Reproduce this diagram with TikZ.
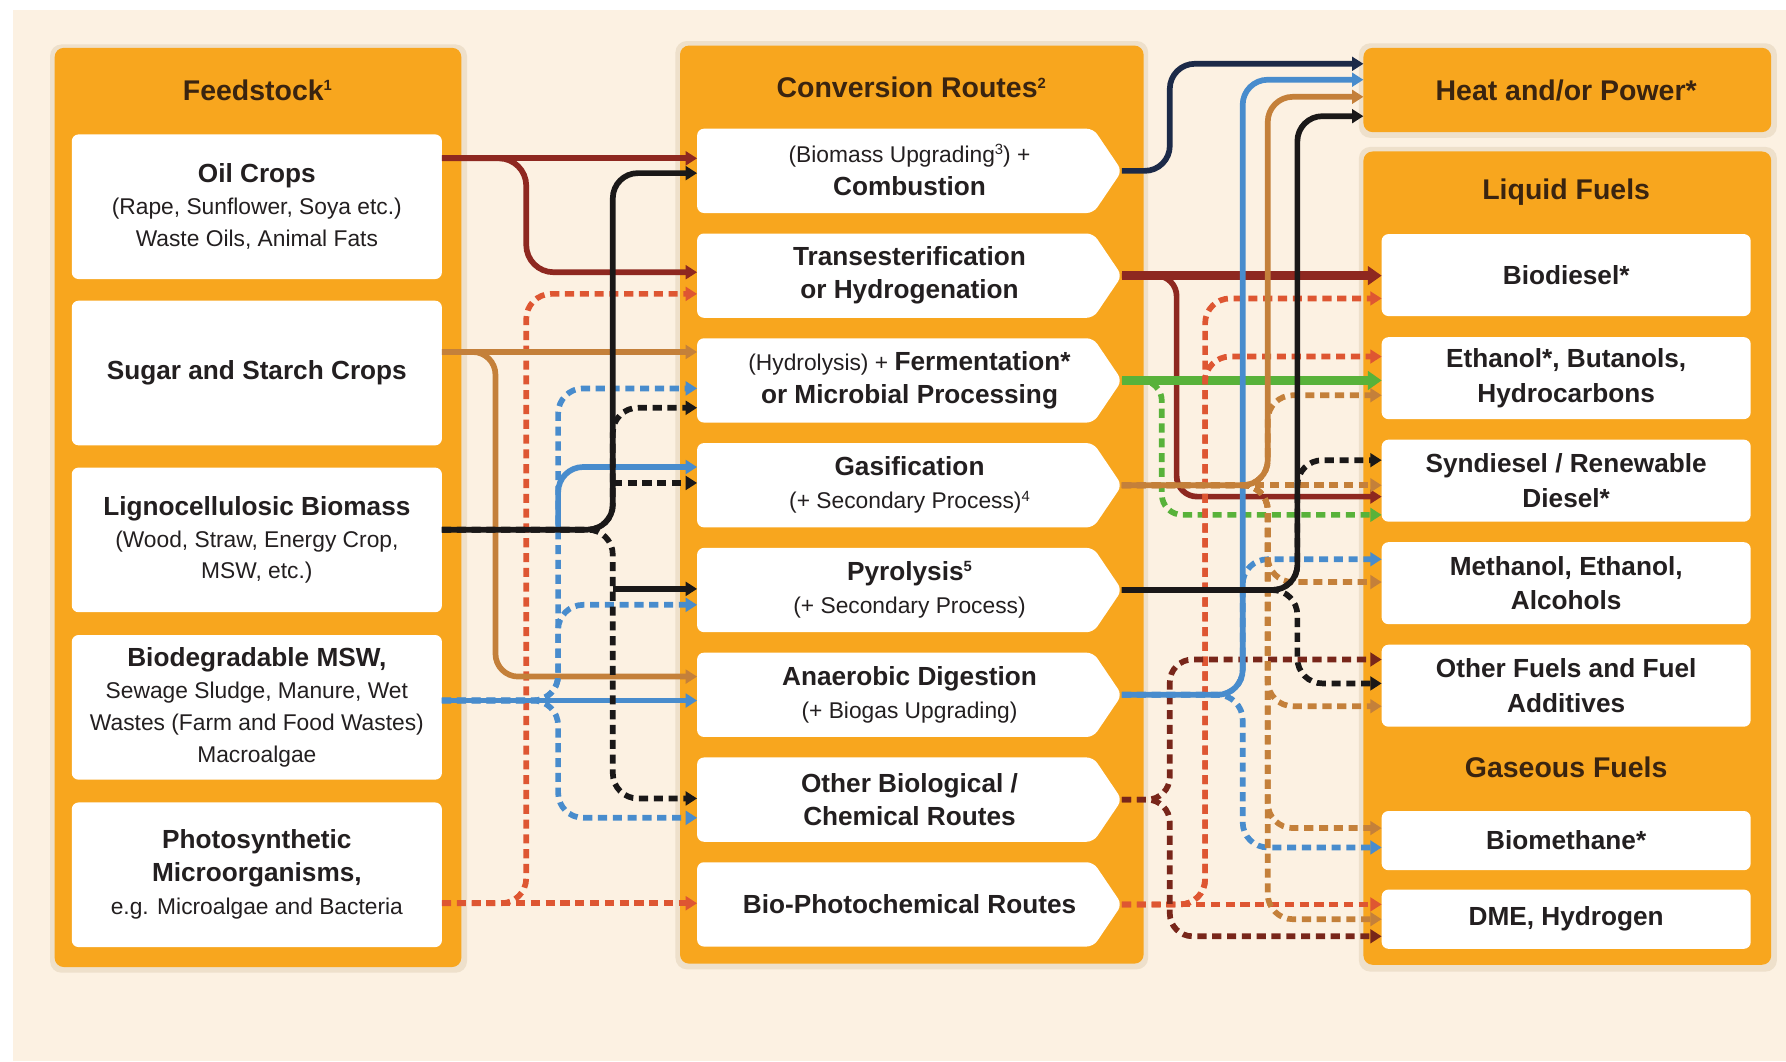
\documentclass[tikz,border=0pt]{standalone}
\usepackage{fontspec}
\setmainfont{Liberation Sans}
\usetikzlibrary{arrows.meta,calc}

\definecolor{bgcream}{RGB}{252,241,226}
\definecolor{panelor}{RGB}{248,166,30}
\definecolor{txt}{RGB}{35,31,32}
\definecolor{head}{RGB}{58,36,16}
\definecolor{cdred}{RGB}{142,40,32}
\definecolor{cred}{RGB}{222,86,50}
\definecolor{ctan}{RGB}{196,128,58}
\definecolor{cblack}{RGB}{26,24,24}
\definecolor{cnavy}{RGB}{28,42,72}
\definecolor{cblue}{RGB}{72,140,205}
\definecolor{cgreen}{RGB}{88,178,58}
\definecolor{cmaroon}{RGB}{120,38,26}
\definecolor{shadowc}{RGB}{238,224,203}

\newcommand{\bfx}[1]{{\fontsize{23}{29}\selectfont\bfseries #1}}
\newcommand{\sups}[1]{\smash{\raisebox{0.34em}{\fontsize{13}{13}\selectfont #1}}}
\newcommand{\convbox}[3]{%
  \fill[white,rounded corners=6pt] (612,#2-37) -- (960,#2-37) -- (985,#2) -- (960,#2+37) -- (612,#2+37) -- cycle;
  \node[ctext] (#1) at (798.5,#2) {#3};
}

\tikzset{
  panel/.style={fill=panelor, rounded corners=8pt, inner sep=0pt, outer sep=0pt},
  shade/.style={fill=shadowc, rounded corners=10pt},
  heading/.style={text=head, font=\fontsize{25}{30}\selectfont\bfseries, inner sep=0pt},
  fbox/.style={fill=white, rounded corners=6pt, inner sep=0pt, outer sep=0pt,
    minimum width=325pt, minimum height=127pt, align=center, text=txt,
    font=\fontsize{20}{28}\selectfont},
  obox/.style={fill=white, rounded corners=6pt, inner sep=0pt, outer sep=0pt,
    minimum width=324pt, minimum height=72pt, align=center, text=txt,
    font=\fontsize{23}{30}\selectfont\bfseries},
  ctext/.style={inner sep=0pt, outer sep=0pt, minimum width=373pt, minimum height=74pt,
    align=center, text=txt, font=\fontsize{20}{29}\selectfont},
  ln/.style={line width=5pt, rounded corners=22pt, -{Triangle[length=10pt,width=12pt]}},
  thk/.style={line width=7.5pt, -{Triangle[length=12pt,width=16pt]}},
  dsh/.style={dash pattern=on 8pt off 5pt},
}

\begin{document}
\begin{tikzpicture}[x=1pt,y=-1pt]
\useasboundingbox (0,0) rectangle (1568,931.5);
\fill[white] (0,0) rectangle (1568,931.5);
\fill[bgcream] (11,9) rectangle (1568,931.5);

% soft halos behind panels
\fill[shade] (44,39) rectangle (410,854);
\fill[shade] (593,36) rectangle (1008,851);
\fill[shade] (1193,38) rectangle (1560,121);
\fill[shade] (1193,129) rectangle (1560,853);

% panels
\node[panel, minimum width=357pt, minimum height=807pt] (fpanel) at (226.5,445.5) {};
\node[panel, minimum width=407pt, minimum height=806pt] (cpanel) at (800.5,443) {};
\node[panel, minimum width=358pt, minimum height=74pt] (heat) at (1376,79) {};
\node[panel, minimum width=358pt, minimum height=714pt] (opanel) at (1376,490) {};

% headings
\node[heading] (hfeed) at (226,79) {Feedstock\sups{1}};
\node[heading] (hconv) at (800,77) {Conversion Routes\sups{2}};
\node[heading] (hheat) at (1375,79) {Heat and/or Power*};
\node[heading] (hliq) at (1375,169) {Liquid Fuels};
\node[heading] (hgas) at (1375,674) {Gaseous Fuels};

% feedstock boxes
\node[fbox] (oil) at (225.5,181.5) {\bfx{Oil Crops}\\(Rape, Sunflower, Soya etc.)\\Waste Oils, Animal Fats};
\node[fbox] (sugar) at (225.5,327.5) {\bfx{Sugar and Starch Crops}};
\node[fbox] (ligno) at (225.5,474) {\bfx{Lignocellulosic Biomass}\\(Wood, Straw, Energy Crop,\\MSW, etc.)};
\node[fbox] (msw) at (225.5,621) {\bfx{Biodegradable MSW,}\\Sewage Sludge, Manure, Wet\\Wastes (Farm and Food Wastes)\\Macroalgae};
\node[fbox] (photo) at (225.5,768) {\bfx{Photosynthetic}\\[1pt]\bfx{Microorganisms,}\\[1pt]e.g. Microalgae and Bacteria};

% output boxes
\node[obox] (bio) at (1375,241.5) {Biodiesel*};
\node[obox] (eth) at (1375,332) {Ethanol*, Butanols,\\Hydrocarbons};
\node[obox] (syn) at (1375,422) {Syndiesel / Renewable\\Diesel*};
\node[obox] (meth) at (1375,512) {Methanol, Ethanol,\\Alcohols};
\node[obox] (addit) at (1375,602) {Other Fuels and Fuel\\Additives};
\node[obox, minimum height=52pt] (biom) at (1375,738) {Biomethane*};
\node[obox, minimum height=52pt] (dme) at (1375,807) {DME, Hydrogen};

% conversion boxes
\convbox{comb}{150}{(Biomass Upgrading\sups{3}) +\\\bfx{Combustion}}
\convbox{trans}{242}{\bfx{Transesterification}\\\bfx{or Hydrogenation}}
\convbox{ferm}{334}{(Hydrolysis) + \bfx{Fermentation*}\\\bfx{or Microbial Processing}}
\convbox{gas}{426}{\bfx{Gasification}\\(+ Secondary Process)\sups{4}}
\convbox{pyro}{518}{\bfx{Pyrolysis\sups{5}}\\(+ Secondary Process)}
\convbox{anaer}{610}{\bfx{Anaerobic Digestion}\\(+ Biogas Upgrading)}
\convbox{obio}{702}{\bfx{Other Biological /}\\\bfx{Chemical Routes}}
\convbox{bioph}{794}{\bfx{Bio-Photochemical Routes}}

% ---------- left connectors ----------
\draw[ln,cdred] (oil.east|-0,139) -- (comb.west|-0,139);
\draw[ln,cdred,rounded corners=24pt] (oil.east|-0,139) -- (462,139) -- (462,239) -- (trans.west|-0,239);

\draw[ln,cred,dsh] (photo.east|-0,793) -- (bioph.west|-0,793);
\draw[ln,cred,dsh] (photo.east|-0,793) -- (462,793) -- (462,258) -- (trans.west|-0,258);

\draw[ln,ctan] (sugar.east|-0,309) -- (ferm.west|-0,309);
\draw[ln,ctan,rounded corners=20pt] (sugar.east|-0,309) -- (435,309) -- (435,594) -- (anaer.west|-0,594);

\draw[ln,cblue] (msw.east|-0,615) -- (anaer.west|-0,615);
\draw[ln,cblue,dsh] (msw.east|-0,615) -- (490,615) -- (490,341) -- (ferm.west|-0,341);
\draw[ln,cblue,dsh] (msw.east|-0,615) -- (490,615) -- (490,531) -- (pyro.west|-0,531);
\draw[ln,cblue,dsh] (msw.east|-0,615) -- (490,615) -- (490,718) -- (obio.west|-0,718);
\coordinate (bluegas) at (490,466);
\draw[ln,cblue] (bluegas) -- (490,410) -- (gas.west|-0,410);

\draw[ln,cblack] (ligno.east|-0,465) -- (538,465) -- (538,152) -- (comb.west|-0,152);
\draw[ln,cblack,dsh] (ligno.east|-0,465) -- (538,465) -- (538,358) -- (ferm.west|-0,358);
\coordinate (blkgas) at (538,424);
\draw[ln,cblack,dsh] (blkgas) -- (gas.west|-0,424);
\draw[ln,cblack,dsh] (ligno.east|-0,465) -- (538,465) -- (538,701) -- (obio.west|-0,701);
\coordinate (blkpyro) at (538,517);
\draw[ln,cblack] (blkpyro) -- (pyro.west|-0,517);

% ---------- right connectors ----------
\draw[ln,cnavy] (comb.east) -- (1027,150) -- (1027,56) -- (heat.west|-0,56);

\draw[thk,cdred] (trans.east) -- (bio.west|-trans.east);
\draw[ln,cdred,rounded corners=18pt] (trans.east) -- (1033,242) -- (1033,436) -- (syn.west|-0,436);

\draw[thk,cgreen] (ferm.east) -- (eth.west|-ferm.east);
\draw[ln,cgreen,dsh,rounded corners=18pt] (ferm.east) -- (1020,334) -- (1020,452) -- (syn.west|-0,452);

\draw[ln,cred,dsh] (bioph.east) -- (dme.west|-bioph.east);
\draw[ln,cred,dsh] (bioph.east) -- (1058,794) -- (1058,262) -- (bio.west|-0,262);
\draw[ln,cred,dsh] (bioph.east) -- (1058,794) -- (1058,313) -- (eth.west|-0,313);

\draw[ln,cmaroon,dsh,rounded corners=20pt] (obio.east) -- (1027,702) -- (1027,579) -- (addit.west|-0,579);
\draw[ln,cmaroon,dsh,rounded corners=20pt] (obio.east) -- (1027,702) -- (1027,822) -- (dme.west|-0,822);

\draw[ln,cblue] (anaer.east) -- (1091,610) -- (1091,70) -- (heat.west|-0,70);
\draw[ln,cblue,dsh] (anaer.east) -- (1091,610) -- (1091,491) -- (meth.west|-0,491);
\draw[ln,cblue,dsh] (anaer.east) -- (1091,610) -- (1091,744) -- (biom.west|-0,744);

\draw[ln,ctan] (gas.east) -- (1113,426) -- (1113,85) -- (heat.west|-0,85);
\draw[ln,ctan,dsh] (gas.east) -- (syn.west|-gas.east);
\draw[ln,ctan,dsh] (gas.east) -- (1113,426) -- (1113,347) -- (eth.west|-0,347);
\draw[ln,ctan,dsh] (gas.east) -- (1113,426) -- (1113,511) -- (meth.west|-0,511);
\draw[ln,ctan,dsh] (gas.east) -- (1113,426) -- (1113,620) -- (addit.west|-0,620);
\draw[ln,ctan,dsh] (gas.east) -- (1113,426) -- (1113,727) -- (biom.west|-0,727);
\draw[ln,ctan,dsh] (gas.east) -- (1113,426) -- (1113,807) -- (dme.west|-0,807);

\draw[ln,cblack] (pyro.east) -- (1139,518) -- (1139,102) -- (heat.west|-0,102);
\draw[ln,cblack,dsh] (pyro.east) -- (1139,518) -- (1139,404) -- (syn.west|-0,404);
\draw[ln,cblack,dsh] (pyro.east) -- (1139,518) -- (1139,600) -- (addit.west|-0,600);
\end{tikzpicture}
\end{document}
